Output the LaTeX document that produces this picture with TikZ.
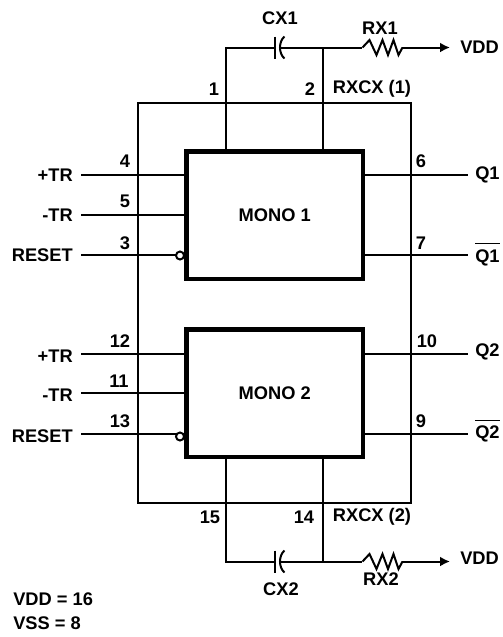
\documentclass[tikz,border=0pt]{standalone}
\usepackage{fontspec}
\setmainfont{Liberation Sans}
\usetikzlibrary{arrows.meta, positioning, calc}

\begin{document}
\begin{tikzpicture}[
  x=0.75pt, y=-0.75pt,
  every node/.style = {font=\fontsize{13.7}{15}\selectfont\bfseries, inner sep=0pt},
  wire/.style = {line width=1.5pt},
  block/.style = {draw, line width=3.4pt, minimum width=132.5pt, minimum height=95.5pt, align=center},
  chip/.style = {draw, line width=1.5pt, minimum width=204.75pt, minimum height=300pt},
  arrow/.style = {wire, -{Latex[length=7.5pt,width=7.5pt]}},
  bubble/.style = {circle, draw, line width=1.5pt, fill=white, minimum size=6pt},
  pinL/.style = {anchor=east},
  pinR/.style = {anchor=west},
  pinN/.style = {anchor=base west},
  capsym/.pic = {
    \draw[wire] (-2.5,-11) -- (-2.5,11);
    \draw[wire] (7,-11) .. controls (1,-6) and (1,6) .. (7,11);
  },
  ressym/.pic = {
    \draw[wire] (-20,0) -- (-13,-7.5) -- (-6,7.5) -- (0,-7.5) -- (5.5,7.5) -- (11,-7.5) -- (16,7.5) -- (20,0);
  }
]
  \useasboundingbox (0,0) rectangle (503,637);

  % package outline and the two blocks
  \node[chip] (pkg) at (274.5,302.5) {};
  \node[block, fill=white] (mono1) at (274.75,215.25) {MONO 1};
  \node[block, fill=white] (mono2) at (274.75,393.25) {MONO 2};

  % left side signals
  \node[pinL] (tra1) at (73,175) {+TR};
  \node[pinL] (trb1) at (73,215) {-TR};
  \node[pinL] (rst1) at (73,255) {RESET};
  \node[pinL] (tra2) at (73,356) {+TR};
  \node[pinL] (trb2) at (73,395) {-TR};
  \node[pinL] (rst2) at (73,436) {RESET};

  \coordinate (tra2in) at (81,354);
  \coordinate (trb2in) at (81,393);
  \coordinate (rst2in) at (81,434);
  \draw[wire] (tra1.east) ++(8,0) -- (tra1.east -| mono1.west);
  \draw[wire] (trb1.east) ++(8,0) -- (trb1.east -| mono1.west);
  \draw[wire] (rst1.east) ++(8,0) -- (rst1.east -| mono1.west);
  \draw[wire] (tra2in) -- (tra2in -| mono2.west);
  \draw[wire] (trb2in) -- (trb2in -| mono2.west);
  \draw[wire] (rst2in) -- (rst2in -| mono2.west);
  \node[bubble] (inv1) at (180,255.5) {};
  \node[bubble] (inv2) at (180,436.5) {};

  % right side signals
  \node[pinR] (q1) at (475,175) {Q1};
  \node[pinN] (qn1) at (475,262) {$\overline{\mbox{\rule{0pt}{12.6pt}Q1}}$};
  \node[pinR] (q2) at (475,352) {Q2};
  \node[pinN] (qn2) at (475,438.5) {$\overline{\mbox{\rule{0pt}{12.6pt}Q2}}$};

  \coordinate (q1end) at (468,175);
  \coordinate (qn1end) at (468,255);
  \coordinate (q2end) at (468,354);
  \coordinate (qn2end) at (468,434);
  \draw[wire] (mono1.east |- q1end) -- (q1end);
  \draw[wire] (mono1.east |- qn1end) -- (qn1end);
  \draw[wire] (mono2.east |- q2end) -- (q2end);
  \draw[wire] (mono2.east |- qn2end) -- (qn2end);

  % timing parts, top
  \coordinate (a1) at (226,47.5);
  \coordinate (b1) at (322.5,47.5);
  \coordinate (vdda) at (450,47.5);
  \draw[wire] (mono1.north -| a1) -- (a1) -- (275,47.5);
  \draw[wire] (mono1.north -| b1) -- (b1) -- (362,47.5);
  \draw[wire] (280,47.5) -- (b1);
  \draw[arrow] (402,47.5) -- (vdda);
  \pic at (277.5,47.5) {capsym};
  \pic at (382.5,47.5) {ressym};

  % timing parts, bottom
  \coordinate (a2) at (226,561.5);
  \coordinate (b2) at (322.5,561.5);
  \coordinate (vddb) at (450,561.5);
  \draw[wire] (mono2.south -| a2) -- (a2) -- (275,561.5);
  \draw[wire] (mono2.south -| b2) -- (b2) -- (362,561.5);
  \draw[wire] (280,561.5) -- (b2);
  \draw[arrow] (402,561.5) -- (vddb);
  \pic at (277.5,561.5) {capsym};
  \pic at (382.5,561.5) {ressym};

  % part labels
  \node (cx1) at (280,18) {CX1};
  \node (rx1) at (380,28) {RX1};
  \node (cx2) at (281,589) {CX2};
  \node (rx2) at (381,579) {RX2};
  \node[pinR] (vdd1) at (460,47) {VDD};
  \node[pinR] (vdd2) at (460,558) {VDD};

  % pin numbers
  \node (n1) at (214,89) {1};
  \node (n2) at (310,89) {2};
  \node (n3) at (125,243) {3};
  \node (n4) at (125,161) {4};
  \node (n5) at (125,201) {5};
  \node (n6) at (421,161) {6};
  \node (n7) at (421,243) {7};
  \node (n9) at (421,421) {9};
  \node (n10) at (427,341) {10};
  \node (n11) at (119,381) {11};
  \node (n12) at (120,341) {12};
  \node (n13) at (120,421) {13};
  \node (n14) at (304,517) {14};
  \node (n15) at (210,517) {15};
  \node (rxcx1) at (372,89) {RXCX (1)};
  \node (rxcx2) at (372,517) {RXCX (2)};

  % supply note
  \node[anchor=west] (vdd) at (13,599) {VDD = 16};
  \node[anchor=west] (vss) at (13,623) {VSS = 8};

\end{tikzpicture}
\end{document}
